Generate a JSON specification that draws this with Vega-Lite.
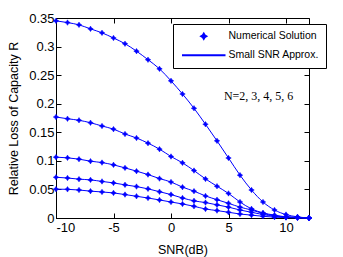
{
  "$schema": "https://vega.github.io/schema/vega-lite/v6.json",
  "autosize": "none",
  "width": 253,
  "height": 200,
  "padding": {"left": 56, "top": 18, "right": 34, "bottom": 39},
  "background": "white",
  "config": {
    "view": {"stroke": "black", "strokeWidth": 1},
    "font": "Liberation Sans",
    "axis": {"domainColor": "black", "tickColor": "black", "labelColor": "black", "titleColor": "black", "grid": false, "labelFont": "Liberation Sans", "titleFont": "Liberation Sans", "labelFontSize": 13, "titleFontSize": 12.5, "titleFontWeight": "normal", "tickWidth": 1}
  },
  "data": {"values": [
    {"snr": -10, "N": 2, "R": 0.345}, {"snr": -9, "N": 2, "R": 0.342}, {"snr": -8, "N": 2, "R": 0.338}, {"snr": -7, "N": 2, "R": 0.331}, {"snr": -6, "N": 2, "R": 0.324}, {"snr": -5, "N": 2, "R": 0.315}, {"snr": -4, "N": 2, "R": 0.305}, {"snr": -3, "N": 2, "R": 0.292}, {"snr": -2, "N": 2, "R": 0.277}, {"snr": -1, "N": 2, "R": 0.261}, {"snr": 0, "N": 2, "R": 0.240}, {"snr": 1, "N": 2, "R": 0.217}, {"snr": 2, "N": 2, "R": 0.192}, {"snr": 3, "N": 2, "R": 0.164}, {"snr": 4, "N": 2, "R": 0.135}, {"snr": 5, "N": 2, "R": 0.105}, {"snr": 6, "N": 2, "R": 0.075}, {"snr": 7, "N": 2, "R": 0.049}, {"snr": 8, "N": 2, "R": 0.028}, {"snr": 9, "N": 2, "R": 0.014}, {"snr": 10, "N": 2, "R": 0.006}, {"snr": 11, "N": 2, "R": 0.002}, {"snr": 12, "N": 2, "R": 0.0},
    {"snr": -10, "N": 3, "R": 0.1767}, {"snr": -9, "N": 3, "R": 0.1737}, {"snr": -8, "N": 3, "R": 0.171}, {"snr": -7, "N": 3, "R": 0.1667}, {"snr": -6, "N": 3, "R": 0.161}, {"snr": -5, "N": 3, "R": 0.1555}, {"snr": -4, "N": 3, "R": 0.147}, {"snr": -3, "N": 3, "R": 0.140}, {"snr": -2, "N": 3, "R": 0.131}, {"snr": -1, "N": 3, "R": 0.1205}, {"snr": 0, "N": 3, "R": 0.1076}, {"snr": 1, "N": 3, "R": 0.0965}, {"snr": 2, "N": 3, "R": 0.083}, {"snr": 3, "N": 3, "R": 0.0684}, {"snr": 4, "N": 3, "R": 0.0556}, {"snr": 5, "N": 3, "R": 0.043}, {"snr": 6, "N": 3, "R": 0.028}, {"snr": 7, "N": 3, "R": 0.016}, {"snr": 8, "N": 3, "R": 0.009}, {"snr": 9, "N": 3, "R": 0.005}, {"snr": 10, "N": 3, "R": 0.002}, {"snr": 11, "N": 3, "R": 0.001}, {"snr": 12, "N": 3, "R": 0.0},
    {"snr": -10, "N": 4, "R": 0.1065}, {"snr": -9, "N": 4, "R": 0.1053}, {"snr": -8, "N": 4, "R": 0.103}, {"snr": -7, "N": 4, "R": 0.0994}, {"snr": -6, "N": 4, "R": 0.097}, {"snr": -5, "N": 4, "R": 0.093}, {"snr": -4, "N": 4, "R": 0.0877}, {"snr": -3, "N": 4, "R": 0.082}, {"snr": -2, "N": 4, "R": 0.076}, {"snr": -1, "N": 4, "R": 0.069}, {"snr": 0, "N": 4, "R": 0.063}, {"snr": 1, "N": 4, "R": 0.054}, {"snr": 2, "N": 4, "R": 0.047}, {"snr": 3, "N": 4, "R": 0.0386}, {"snr": 4, "N": 4, "R": 0.032}, {"snr": 5, "N": 4, "R": 0.0257}, {"snr": 6, "N": 4, "R": 0.019}, {"snr": 7, "N": 4, "R": 0.014}, {"snr": 8, "N": 4, "R": 0.008}, {"snr": 9, "N": 4, "R": 0.004}, {"snr": 10, "N": 4, "R": 0.002}, {"snr": 11, "N": 4, "R": 0.001}, {"snr": 12, "N": 4, "R": 0.0},
    {"snr": -10, "N": 5, "R": 0.0713}, {"snr": -9, "N": 5, "R": 0.070}, {"snr": -8, "N": 5, "R": 0.068}, {"snr": -7, "N": 5, "R": 0.0667}, {"snr": -6, "N": 5, "R": 0.064}, {"snr": -5, "N": 5, "R": 0.0614}, {"snr": -4, "N": 5, "R": 0.058}, {"snr": -3, "N": 5, "R": 0.055}, {"snr": -2, "N": 5, "R": 0.051}, {"snr": -1, "N": 5, "R": 0.046}, {"snr": 0, "N": 5, "R": 0.041}, {"snr": 1, "N": 5, "R": 0.035}, {"snr": 2, "N": 5, "R": 0.030}, {"snr": 3, "N": 5, "R": 0.027}, {"snr": 4, "N": 5, "R": 0.023}, {"snr": 5, "N": 5, "R": 0.019}, {"snr": 6, "N": 5, "R": 0.014}, {"snr": 7, "N": 5, "R": 0.010}, {"snr": 8, "N": 5, "R": 0.006}, {"snr": 9, "N": 5, "R": 0.003}, {"snr": 10, "N": 5, "R": 0.0015}, {"snr": 11, "N": 5, "R": 0.0005}, {"snr": 12, "N": 5, "R": 0.0},
    {"snr": -10, "N": 6, "R": 0.0505}, {"snr": -9, "N": 6, "R": 0.0502}, {"snr": -8, "N": 6, "R": 0.049}, {"snr": -7, "N": 6, "R": 0.047}, {"snr": -6, "N": 6, "R": 0.0456}, {"snr": -5, "N": 6, "R": 0.0439}, {"snr": -4, "N": 6, "R": 0.041}, {"snr": -3, "N": 6, "R": 0.038}, {"snr": -2, "N": 6, "R": 0.035}, {"snr": -1, "N": 6, "R": 0.0316}, {"snr": 0, "N": 6, "R": 0.028}, {"snr": 1, "N": 6, "R": 0.0246}, {"snr": 2, "N": 6, "R": 0.0205}, {"snr": 3, "N": 6, "R": 0.0158}, {"snr": 4, "N": 6, "R": 0.013}, {"snr": 5, "N": 6, "R": 0.010}, {"snr": 6, "N": 6, "R": 0.007}, {"snr": 7, "N": 6, "R": 0.005}, {"snr": 8, "N": 6, "R": 0.003}, {"snr": 9, "N": 6, "R": 0.0015}, {"snr": 10, "N": 6, "R": 0.0007}, {"snr": 11, "N": 6, "R": 0.0002}, {"snr": 12, "N": 6, "R": 0.0}
  ]},
  "resolve": {"axis": {"x": "independent", "y": "independent"}},
  "layer": [
    {
      "mark": {"type": "line", "color": "#0000ff", "strokeWidth": 1, "interpolate": "monotone"},
      "encoding": {
        "x": {"field": "snr", "type": "quantitative", "scale": {"domain": [-10, 12], "nice": false}, "axis": {"orient": "bottom", "title": "SNR(dB)", "values": [-10, -5, 0, 5, 10], "labelExpr": "toString(datum.value)", "tickSize": -5, "labelPadding": 8, "titlePadding": 9}},
        "y": {"field": "R", "type": "quantitative", "scale": {"domain": [0, 0.35], "nice": false}, "axis": {"orient": "left", "title": "Relative Loss of Capacity R", "values": [0, 0.05, 0.1, 0.15, 0.2, 0.25, 0.3, 0.35], "labelExpr": "toString(datum.value)", "tickSize": -5, "labelPadding": 7, "titlePadding": 8}},
        "detail": {"field": "N", "type": "nominal"}
      }
    },
    {
      "mark": {"type": "point", "filled": true, "fill": "#0000ff", "stroke": "#0000ff", "strokeWidth": 0.5, "opacity": 1, "size": 30},
      "encoding": {
        "x": {"field": "snr", "type": "quantitative", "axis": {"orient": "top", "title": null, "labels": false, "values": [-10, -5, 0, 5, 10], "tickSize": -5, "domain": false}},
        "y": {"field": "R", "type": "quantitative", "axis": {"orient": "right", "title": null, "labels": false, "values": [0, 0.05, 0.1, 0.15, 0.2, 0.25, 0.3, 0.35], "tickSize": -5, "domain": false}},
        "shape": {"datum": "Numerical Solution", "type": "nominal", "scale": {"domain": ["Numerical Solution", "Small SNR Approx."], "range": ["M0,-1L0.38,-0.38L1,0L0.38,0.38L0,1L-0.38,0.38L-1,0L-0.38,-0.38Z", "M-7,-0.12L7,-0.12L7,0.12L-7,0.12Z"]},
          "legend": {"title": null, "orient": "none", "legendX": 117, "legendY": 6, "strokeColor": "black", "fillColor": "white", "padding": 7, "labelFont": "Liberation Sans", "labelFontSize": 10.5, "labelColor": "black", "symbolSize": 36, "symbolOffset": 18.5, "labelOffset": 19.5, "rowPadding": 7, "cornerRadius": 0,
            "encode": {"symbols": {"update": {"fill": {"value": "#0000ff"}, "fillOpacity": {"value": 1}, "stroke": {"value": "transparent"}, "strokeWidth": {"value": 0}, "opacity": {"value": 1}}}}}}
      }
    },
    {
      "data": {"values": [{"label": "N=2, 3, 4, 5, 6"}]},
      "mark": {"type": "text", "font": "Liberation Serif", "fontSize": 12, "align": "left", "baseline": "middle", "color": "black"},
      "encoding": {
        "x": {"datum": 4.6, "axis": null},
        "y": {"datum": 0.214, "axis": null},
        "text": {"field": "label"}
      }
    }
  ]
}
